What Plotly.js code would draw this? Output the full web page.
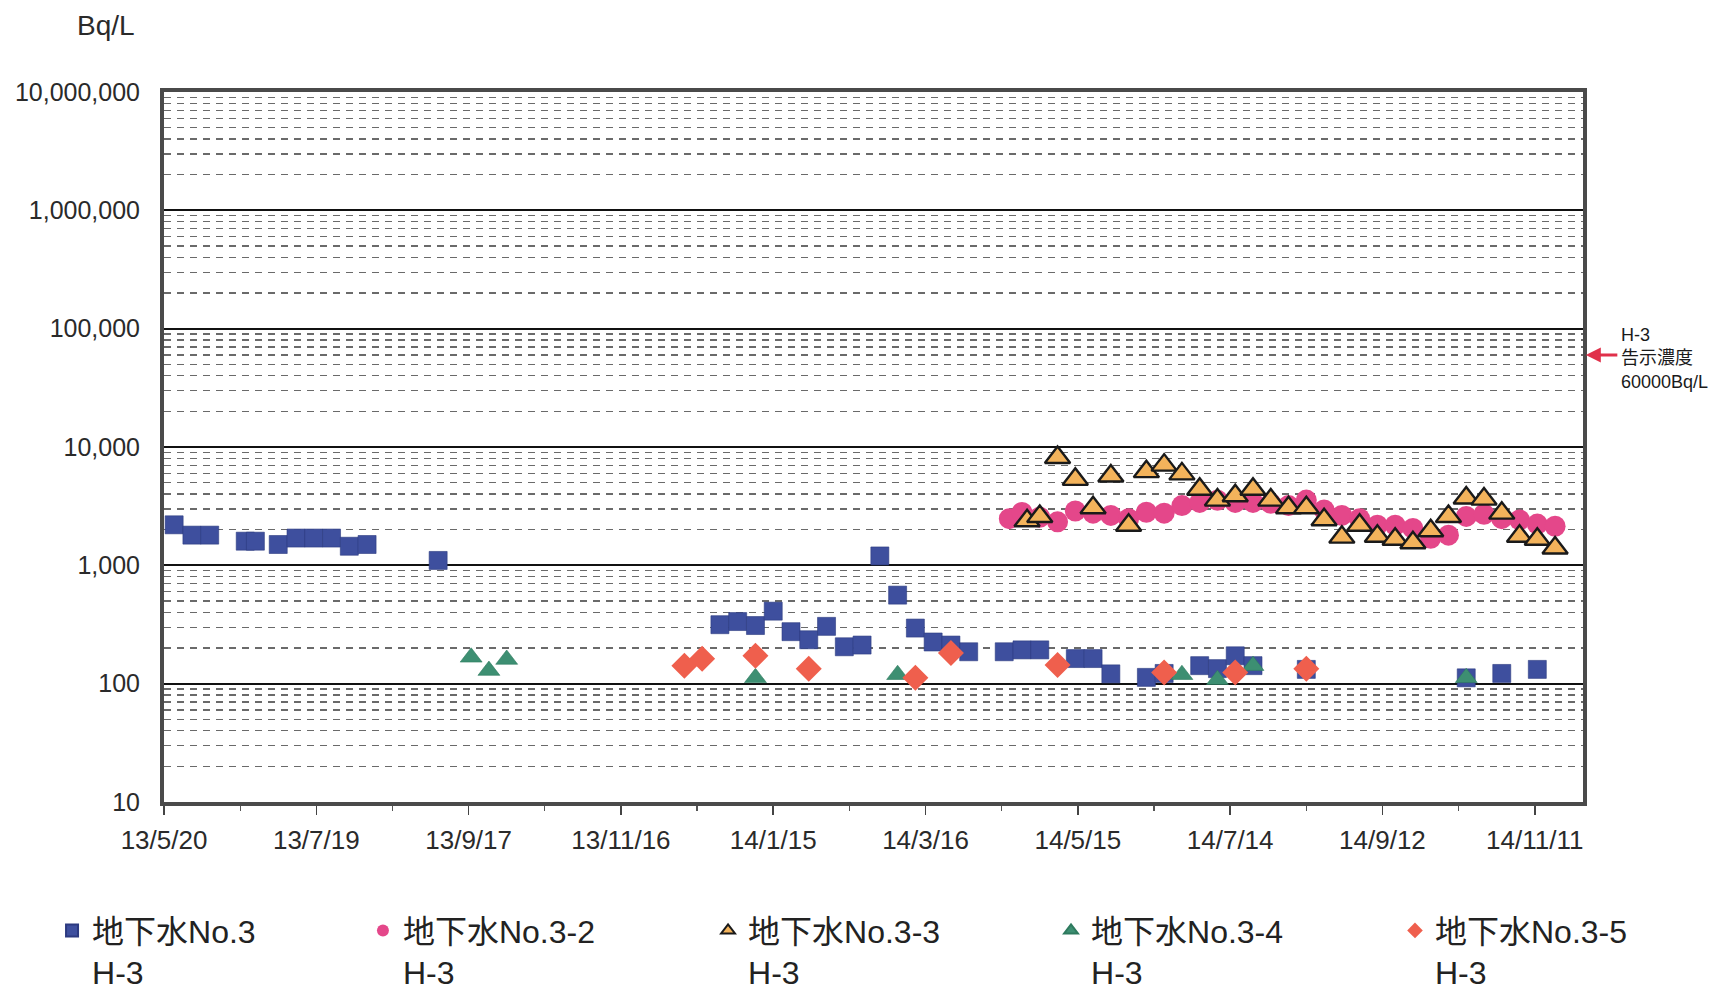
<!DOCTYPE html>
<html>
<head>
<meta charset="utf-8">
<script src="https://cdn.plot.ly/plotly-3.0.1.min.js"></script>
<style>html,body{margin:0;padding:0;background:#fff;}#chart{width:1713px;height:995px;}</style>
</head>
<body>
<div id="chart"></div>
<script>
// ---- data ----
const seriesNames = ['地下水No.3<br>H-3', '地下水No.3-2<br>H-3', '地下水No.3-3<br>H-3', '地下水No.3-4<br>H-3', '地下水No.3-5<br>H-3'];

const dates3 = ['2013-05-24','2013-05-31','2013-06-07','2013-06-21','2013-06-25','2013-07-04','2013-07-11','2013-07-18','2013-07-25','2013-08-01','2013-08-08','2013-09-05',
  '2013-12-25','2014-01-01','2014-01-08','2014-01-15','2014-01-22','2014-01-29','2014-02-05','2014-02-12','2014-02-19','2014-02-26',
  '2014-03-05','2014-03-12','2014-03-19','2014-03-26','2014-04-02','2014-04-16','2014-04-23','2014-04-30','2014-05-14','2014-05-21',
  '2014-05-28','2014-06-11','2014-06-18','2014-07-02','2014-07-09','2014-07-16','2014-07-23','2014-08-13','2014-10-15','2014-10-29','2014-11-12'];
const values3 = [2200,1800,1800,1600,1600,1500,1700,1700,1700,1450,1500,1100,
  315,335,310,410,275,235,305,205,212,1200,
  560,295,225,212,186,186,193,193,163,163,
  121,113,122,142,134,172,142,132,112,122,132];

const dates3_2 = ['2014-04-18','2014-04-23','2014-04-30','2014-05-07','2014-05-14','2014-05-21','2014-05-28','2014-06-04','2014-06-11','2014-06-18',
  '2014-06-25','2014-07-02','2014-07-09','2014-07-16','2014-07-23','2014-07-30','2014-08-06','2014-08-13','2014-08-20','2014-08-27',
  '2014-09-03','2014-09-10','2014-09-17','2014-09-24','2014-10-01','2014-10-08','2014-10-15','2014-10-22','2014-10-29','2014-11-05',
  '2014-11-12','2014-11-19'];
const values3_2 = [2480,2800,2550,2330,2880,2760,2640,2480,2810,2760,
  3200,3400,3550,3400,3400,3340,3200,3560,2940,2640,
  2480,2180,2180,2050,1690,1800,2590,2700,2480,2420,
  2230,2140];

const dates3_3 = ['2014-04-25','2014-04-30','2014-05-07','2014-05-14','2014-05-21','2014-05-28','2014-06-04','2014-06-11','2014-06-18','2014-06-25',
  '2014-07-02','2014-07-09','2014-07-16','2014-07-23','2014-07-30','2014-08-06','2014-08-13','2014-08-20','2014-08-27','2014-09-03',
  '2014-09-10','2014-09-17','2014-09-24','2014-10-01','2014-10-08','2014-10-15','2014-10-22','2014-10-29','2014-11-05','2014-11-12',
  '2014-11-19'];
const values3_3 = [2380,2590,8150,5330,3070,5680,2180,6190,7030,5930,
  4400,3560,3870,4400,3560,3070,3070,2430,1730,2180,
  1760,1660,1550,1960,2590,3710,3630,2760,1760,1660,
  1400];

const dates3_4 = ['2013-09-18','2013-09-25','2013-10-02','2014-01-08','2014-03-05','2014-06-25','2014-07-09','2014-07-23','2014-10-15'];
const values3_4 = [167,129,160,112,119,119,108,142,112];

const dates3_5 = ['2013-12-11','2013-12-18','2014-01-08','2014-01-29','2014-03-12','2014-03-26','2014-05-07','2014-06-18','2014-07-16','2014-08-13'];
const values3_5 = [142,162,172,134,112,182,144,124,124,134];

const xTickDates = ['2013-05-20','2013-07-19','2013-09-17','2013-11-16','2014-01-15','2014-03-16','2014-05-15','2014-07-14','2014-09-12','2014-11-11'];
const xTickLabels = ['13/5/20','13/7/19','13/9/17','13/11/16','14/1/15','14/3/16','14/5/15','14/7/14','14/9/12','14/11/11'];
const xMinorDates = ['2013-06-19','2013-08-18','2013-10-17','2013-12-16','2014-02-14','2014-04-15','2014-06-14','2014-08-13','2014-10-12'];
const yTickVals = [10,100,1000,10000,100000,1000000,10000000];
const yTickLabels = ['10','100','1,000','10,000','100,000','1,000,000','10,000,000'];
const limitValue = 60000;
const limitText = 'H-3<br>告示濃度<br>60000Bq/L';
const unitText = 'Bq/L';

// ---- chart ----
const FONT = '"Liberation Sans", Arial, "Noto Sans CJK JP", sans-serif';
const legendX = [-0.0789, 0.1402, 0.3834, 0.6251, 0.8675];
const legendIds = ['legend','legend2','legend3','legend4','legend5'];

const traces = [
  {x: dates3, y: values3, name: seriesNames[0], type: 'scatter', mode: 'markers',
   marker: {symbol: 'square', size: 18, color: '#3e4f9e', line: {width: 0.6, color: '#2c3a80'}}},
  {x: dates3_2, y: values3_2, name: seriesNames[1], type: 'scatter', mode: 'markers',
   marker: {symbol: 'circle', size: 21, color: '#e4478a', line: {width: 0}}},
  {x: dates3_3, y: values3_3, name: seriesNames[2], type: 'scatter', mode: 'markers',
   marker: {symbol: 'triangle-up', size: 22, color: '#f3b35b', line: {width: 2.4, color: '#1a1a1a'}}},
  {x: dates3_4, y: values3_4, name: seriesNames[3], type: 'scatter', mode: 'markers',
   marker: {symbol: 'triangle-up', size: 19, color: '#3d8f72', line: {width: 0.6, color: '#2e7a5e'}}},
  {x: dates3_5, y: values3_5, name: seriesNames[4], type: 'scatter', mode: 'markers',
   marker: {symbol: 'diamond', size: 20, color: '#ef5f4d', line: {width: 0}}}
];
traces.forEach((t, i) => { t.legend = legendIds[i]; t.showlegend = true; });

const layout = {
  width: 1713, height: 995,
  paper_bgcolor: '#ffffff', plot_bgcolor: '#ffffff',
  margin: {l: 164, r: 130, t: 92, b: 193, autoexpand: false},
  font: {family: FONT, color: '#222222'},
  showlegend: true,
  xaxis: {
    type: 'date', range: ['2013-05-20', '2014-11-30'],
    tickmode: 'array', tickvals: xTickDates, ticktext: xTickLabels,
    ticks: 'outside', ticklen: 9, tickwidth: 1.5, tickcolor: '#444',
    ticklabelstandoff: 3,
    tickfont: {size: 26, family: FONT, color: '#2a2a2a'},
    minor: {tickmode: 'array', tickvals: xMinorDates, ticks: 'outside', ticklen: 5, tickwidth: 1.2, tickcolor: '#555', showgrid: false},
    showgrid: false, zeroline: false, automargin: false,
    showline: true, linewidth: 4, linecolor: '#4a4a4a', mirror: true
  },
  yaxis: {
    type: 'log', range: [1, 7],
    tickmode: 'array', tickvals: yTickVals, ticktext: yTickLabels,
    ticks: '', ticklabelstandoff: 15,
    tickfont: {size: 25, family: FONT, color: '#2a2a2a'},
    showgrid: true, gridcolor: '#111111', gridwidth: 2.2,
    minor: {tickmode: 'linear', dtick: 'D1', showgrid: true, gridcolor: '#6a6a6a', gridwidth: 1.3, griddash: '7px,6px', ticks: ''},
    zeroline: false, automargin: false,
    showline: true, linewidth: 4, linecolor: '#4a4a4a', mirror: true
  },
  annotations: [
    {xref: 'paper', yref: 'paper', x: -0.019, y: 1.094, xanchor: 'right', yanchor: 'middle',
     text: unitText, showarrow: false, font: {size: 28, family: FONT, color: '#2a2a2a'}},
    {xref: 'paper', yref: 'y', x: 1.0254, y: Math.log10(limitValue), xanchor: 'left', yanchor: 'middle', yshift: -4,
     align: 'left', text: limitText, showarrow: false, font: {size: 18, family: FONT, color: '#1a1a1a'}},
    {xref: 'paper', yref: 'y', x: 1.002, y: Math.log10(limitValue), ax: 33, ay: 0, text: '',
     showarrow: true, arrowhead: 2, arrowsize: 1, arrowwidth: 3, arrowcolor: '#e0304a'}
  ]
};

legendIds.forEach((id, i) => {
  layout[id] = {
    orientation: 'h', x: legendX[i], xanchor: 'left', y: -0.1424, yanchor: 'top',
    valign: 'top', itemsizing: 'constant', bgcolor: 'rgba(0,0,0,0)',
    font: {size: 32, family: FONT, color: '#222222'}
  };
});

Plotly.newPlot('chart', traces, layout, {displayModeBar: false, staticPlot: true});
</script>
</body>
</html>
